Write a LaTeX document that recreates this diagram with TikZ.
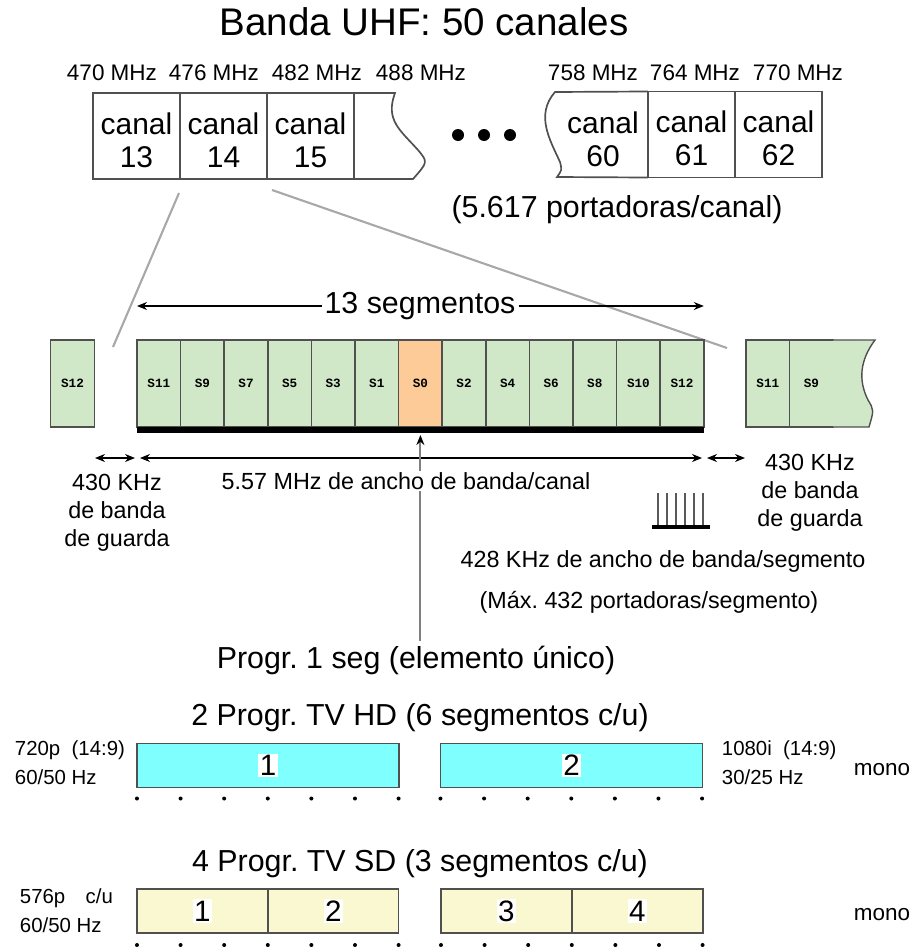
\documentclass[tikz,border=0pt]{standalone}
\usepackage{fontspec}
\setmainfont{Liberation Sans}
\setmonofont{Liberation Mono}
\usepackage{tikz}
\usetikzlibrary{arrows.meta,calc,positioning}
\definecolor{segverde}{HTML}{D0E8C8}
\definecolor{segnaranja}{HTML}{FCCB98}
\definecolor{hdcian}{HTML}{80FFFF}
\definecolor{sdamarillo}{HTML}{FAF8D0}
\definecolor{zoomgris}{HTML}{A8A8A8}
\definecolor{borde}{HTML}{505050}
\newcommand\sube{\rule{0pt}{21pt}}
\frenchspacing

\begin{document}
\begin{tikzpicture}[x=0.025cm, y=-0.025cm,
  titulo/.style={font=\fontsize{27.4}{30}\selectfont},
  grande/.style={font=\fontsize{21.6}{24}\selectfont},
  mhz/.style={font=\fontsize{16}{18}\selectfont},
  mediano/.style={font=\fontsize{16.6}{19.8}\selectfont, align=center},
  chico/.style={font=\fontsize{14.5}{20.6}\selectfont, align=left, anchor=west},
  canaltexto/.style={align=center, font=\fontsize{21.3}{23.5}\selectfont},
  canal/.style={canaltexto, draw=borde, line width=1.2pt, outer sep=0pt,
    minimum width=2.175cm, minimum height=2.15cm},
  seg/.style={draw=borde, line width=1pt, outer sep=0pt, inner sep=0pt,
    minimum width=1.09cm, minimum height=2.175cm, font=\ttfamily\bfseries\fontsize{9}{10}\selectfont},
  barra/.style={draw=borde, line width=1.2pt, outer sep=0pt, inner sep=0pt, minimum height=1.1cm},
  numero/.style={fill=white, inner sep=1pt, font=\fontsize{21}{22}\selectfont},
  flecha/.style={-{Stealth[length=2.5mm,width=2mm]}, line width=0.8pt},
  doble/.style={{Stealth[length=2.5mm,width=2mm]}-{Stealth[length=2.5mm,width=2mm]}, line width=0.8pt}]
\useasboundingbox (0,0) rectangle (914,947);
\node[titulo] (banda) at (424,22) {Banda UHF: 50 canales};
\foreach \f/\x in {470/112,476/214,482/317,488/421,758/593,764/695,770/798}
  \node[mhz] (m\f) at (\x,73) {\f\ MHz};
\node[canal] (c13) at (136.5,136) {\sube canal\\13};
\node[canal, right=0pt of c13] (c14) {\sube canal\\14};
\node[canal, right=0pt of c14] (c15) {\sube canal\\15};
\draw[borde, line width=1.2pt] (c15.north east) -- (395,93) .. controls (385,120) and (400,130) .. (418,150)
  .. controls (428,162) .. (413,179) -- (c15.south east);
\foreach \x in {458,484,510} \fill (\x,135) circle (6);
\node[canal] (c61) at (691.5,134.5) {\sube canal\\61};
\node[canal, right=0pt of c61] (c62) {\sube canal\\62};
\node[canaltexto] (c60) at (603,139) {canal\\60};
\draw[borde, line width=1.2pt] (c61.north west) -- (555,92) .. controls (535,115) and (550,140) .. (560,162)
  .. controls (562,170) .. (557,177) -- (c61.south west);
\node[grande] (port) at (617,210) {(5.617 portadoras/canal)};
\coordinate (zi) at (113,347);
\coordinate (zd) at (727,348);
\draw[zoomgris, line width=1.5pt] ($(c14.south west)+(-1,14)$) -- (zi);
\draw[zoomgris, line width=1.5pt] ($(c14.south east)+(5,11)$) -- (zd);
\foreach \s/\c [count=\i] in {11/segverde,9/segverde,7/segverde,5/segverde,3/segverde,1/segverde,0/segnaranja,
    2/segverde,4/segverde,6/segverde,8/segverde,10/segverde,12/segverde}
  \node[seg, fill=\c] (s\s) at ({137+43.6*\i-21.8},383.5) {S\s};
\node[seg, fill=segverde] (g12) at (72.5,383.5) {S12};
\node[seg, fill=segverde] (h11) at (767.8,383.5) {S11};
\node[seg, fill=segverde, right=0pt of h11] (h9) {S9};
\filldraw[fill=segverde, draw=borde, line width=1pt] (h9.north east) -- (875,340) .. controls (860,360) and (858,380) .. (868,400)
  .. controls (874,410) .. (869,427) -- (h9.south east);
\fill (s11.south west) rectangle ($(s12.south east)+(0,6)$);
\node[grande, fill=white, inner sep=2pt] (trece) at (420,306) {13 segmentos};
\draw[flecha] (trece.west) -- (trece.west -| s11.west);
\draw[flecha] (trece.east) -- (trece.east -| s12.east);
\coordinate (gi) at (95,458);
\coordinate (gf) at (135,458);
\coordinate (ai) at (140,458);
\coordinate (af) at (702,458);
\coordinate (hi) at (707,458);
\coordinate (hf) at (745,458);
\draw[doble] (gi) -- (gf);
\draw[doble] (ai) -- (af);
\draw[doble] (hi) -- (hf);
\node[grande] (prog1) at (416,660) {Progr. 1 seg (elemento único)};
\coordinate (tope) at ($(s0.south)+(0,8)$);
\draw[gray, line width=1.5pt, -{Stealth[black,length=2.5mm,width=2mm]}] (prog1.north -| tope) -- (tope);
\node[mediano, fill=white, inner sep=1pt] (ancho) at (406,481) {5.57 MHz de ancho de banda/canal};
\node[mediano] (gizq) at (117,513) {430 KHz\\de banda\\de guarda};
\node[mediano] (gder) at (810,493) {430 KHz\\de banda\\de guarda};
\draw[line width=3pt] (652,527) -- (710,527);
\foreach \x in {658,667,...,703} \draw[gray!70!black, line width=1pt] (\x,493) -- (\x,525);
\node[mediano] (kseg) at (663,561) {428 KHz de ancho de banda/segmento};
\node[mediano] (maxp) at (649,602) {(Máx. 432 portadoras/segmento)};
\node[grande] (hdt) at (420,718) {2 Progr. TV HD (6 segmentos c/u)};
\node[barra, fill=hdcian, minimum width=6.55cm] (hd1) at (268,765.5) {};
\node[barra, fill=hdcian, minimum width=6.55cm] (hd2) at (571.5,765.5) {};
\node[numero] (n1) at (hd1) {1};
\node[numero] (n2) at (hd2) {2};
\foreach \b in {hd1,hd2} \foreach \k in {0,...,6}
  \fill ($(\b.south west)+(\k*43.6,11)$) circle (2);
\node[chico] (res1) at (10,763) {720p\ \ (14:9)\\60/50 Hz};
\node[chico] (res2) at (717,763) {1080i\ \ (14:9)\\30/25 Hz};
\node[mhz] (mono1) at (882,770) {mono};
\node[grande] (sdt) at (420,864) {4 Progr. TV SD (3 segmentos c/u)};
\node[barra, fill=sdamarillo, minimum width=3.27cm] (sd1) at (202.4,911) {};
\node[barra, fill=sdamarillo, minimum width=3.27cm, right=0pt of sd1] (sd2) {};
\node[barra, fill=sdamarillo, minimum width=3.27cm] (sd3) at (506.4,911) {};
\node[barra, fill=sdamarillo, minimum width=3.27cm, right=0pt of sd3] (sd4) {};
\foreach \i in {1,...,4} \node[numero] (p\i) at (sd\i) {\i};
\foreach \b in {sd1,sd3} \foreach \k in {0,...,6}
  \fill ($(\b.south west)+(\k*43.6,12)$) circle (2);
\node[chico] (res3) at (15,911) {576p\hspace{1em}c/u\\60/50 Hz};
\node[mhz] (mono2) at (882,915) {mono};
\end{tikzpicture}
\end{document}
